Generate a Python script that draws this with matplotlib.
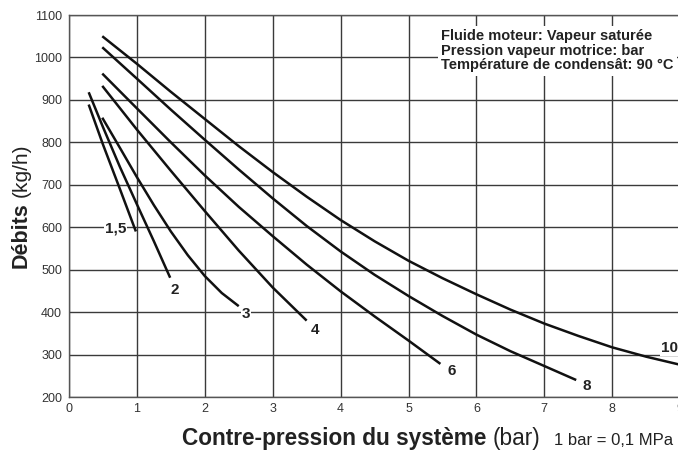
import matplotlib
matplotlib.use("Agg")
import matplotlib.pyplot as plt

plt.rcParams['font.family'] = ['Liberation Sans', 'DejaVu Sans']

# ---- data ----
x_15 = [0.29, 0.5, 0.75, 0.985]
y_15 = [889, 795, 690, 590]

x_2 = [0.29, 0.5, 0.75, 1.0, 1.25, 1.49]
y_2 = [918, 836, 742, 654, 567, 481]

x_3 = [0.49, 0.75, 1.0, 1.25, 1.5, 1.75, 2.0, 2.25, 2.5]
y_3 = [858, 787, 718, 652, 590, 534, 485, 445, 414]

x_4 = [0.49, 1.0, 1.5, 2.0, 2.5, 3.0, 3.5]
y_4 = [933, 830, 733, 638, 545, 458, 380]

x_6 = [0.49, 1.0, 1.5, 2.0, 2.5, 3.0, 3.5, 4.0, 4.5, 5.0, 5.47]
y_6 = [962, 880, 800, 722, 648, 579, 512, 449, 390, 333, 278]

x_8 = [0.49, 1.0, 1.5, 2.0, 2.5, 3.0, 3.5, 4.0, 4.5, 5.0, 5.5, 6.0, 6.5, 7.0, 7.47]
y_8 = [1024, 950, 877, 806, 736, 668, 603, 543, 488, 438, 391, 347, 308, 273, 240]

x_10 = [0.49, 1.0, 1.5, 2.0, 2.5, 3.0, 3.5, 4.0, 4.5, 5.0, 5.5, 6.0, 6.5, 7.0, 7.5, 8.0, 8.5, 9.0]
y_10 = [1050, 985, 919, 855, 791, 730, 672, 617, 567, 521, 480, 442, 406, 373, 344, 317, 295, 276]

curve_labels = ["1,5", "2", "3", "4", "6", "8", "10"]
label_x = [0.69, 1.56, 2.61, 3.62, 5.63, 7.63, 8.84]
label_y = [596, 451, 396, 358, 261, 226, 316]

x_ticks = [0, 1, 2, 3, 4, 5, 6, 7, 8, 9]
y_ticks = [200, 300, 400, 500, 600, 700, 800, 900, 1000, 1100]

note_lines = ["Fluide moteur: Vapeur saturée",
              "Pression vapeur motrice: bar",
              "Température de condensât: 90 °C"]

W, H = 678, 450
fig = plt.figure(figsize=(W / 100, H / 100), dpi=100)
ax = fig.add_axes([69 / W, 1 - 397 / H, 9 * 67.9 / W, 382 / H])

ax.set_xlim(0, 9)
ax.set_ylim(200, 1100)
ax.set_xticks(x_ticks)
ax.set_yticks(y_ticks)
ax.set_xticklabels([str(v) for v in x_ticks])
ax.set_yticklabels([str(v) for v in y_ticks])
ax.tick_params(axis='both', length=0, labelsize=9, colors='#333333')
ax.tick_params(axis='y', pad=5)
ax.tick_params(axis='x', pad=4)
ax.grid(True, color='#3a3a3a', linewidth=1.0)
ax.set_axisbelow(True)
for s in ax.spines.values():
    s.set_color('#555555')
    s.set_linewidth(1.0)

curves = [(x_15, y_15), (x_2, y_2), (x_3, y_3), (x_4, y_4),
          (x_6, y_6), (x_8, y_8), (x_10, y_10)]
for xs, ys in curves:
    ax.plot(xs, ys, color='#111111', linewidth=1.8, solid_capstyle='butt',
            solid_joinstyle='round', zorder=3)

for lab, lx, ly in zip(curve_labels, label_x, label_y):
    ax.text(lx, ly, lab, fontsize=11, fontweight='bold', color='#222222',
            ha='center', va='center', zorder=4,
            bbox=dict(facecolor='white', edgecolor='none', pad=0.6))

ax.text(441 / W, 1 - 29 / H, "\n".join(note_lines), transform=fig.transFigure,
        fontsize=10.5, fontweight='bold', color='#222222', ha='left', va='top',
        linespacing=1.05, zorder=5,
        bbox=dict(facecolor='white', edgecolor='none', pad=2.5))

# axis titles with mixed weights
fig.canvas.draw()
r = fig.canvas.get_renderer()

t1 = fig.text(27 / W, 1 - 268 / H, "Débits", rotation=90, rotation_mode='anchor',
              ha='left', va='baseline', fontsize=15.5, fontweight='bold', color='#222222')
bb = t1.get_window_extent(renderer=r)
fig.text(27 / W, (bb.y1 + 5) / H, "(kg/h)", rotation=90, rotation_mode='anchor',
         ha='left', va='baseline', fontsize=15, color='#222222')

base = 1 - 445 / H
t2 = fig.text(182 / W, base, "Contre-pression du système", ha='left', va='baseline',
              fontsize=16.3, fontweight='bold', color='#222222')
bb2 = t2.get_window_extent(renderer=r)
t3 = fig.text((bb2.x1 + 6) / W, base, "(bar)", ha='left', va='baseline',
              fontsize=16.3, color='#222222')
bb3 = t3.get_window_extent(renderer=r)
fig.text((bb3.x1 + 14) / W, base, "1 bar = 0,1 MPa", ha='left', va='baseline',
         fontsize=12, color='#222222')

fig.savefig("out.png", dpi=100)
